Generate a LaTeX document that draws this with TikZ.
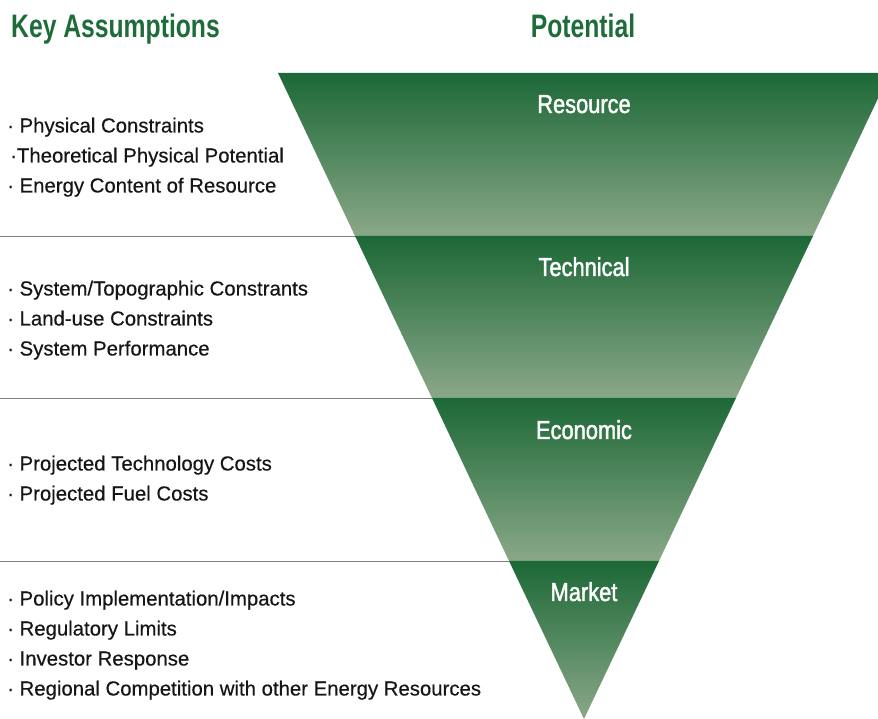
\documentclass[tikz,border=0pt]{standalone}
\usepackage{fontspec}
\setmainfont[FakeBold=0.4]{Liberation Sans}
\newfontfamily\titlefont[FakeStretch=0.76]{Liberation Sans}
\newfontfamily\bandfont[FakeStretch=0.84,FakeBold=1.6]{Liberation Sans}
\definecolor{titlegreen}{RGB}{30,108,58}
\definecolor{bandtop}{RGB}{28,104,54}
\definecolor{bandbot}{RGB}{138,168,136}
\definecolor{textgrey}{RGB}{22,22,22}
\tikzset{
	heading/.style={inner sep=0pt, text=titlegreen, font=\titlefont\bfseries\fontsize{32.5}{36}\selectfont},
	item/.style={anchor=base west, inner sep=0pt, text=textgrey, font=\fontsize{20.35}{24}\selectfont},
	bandlabel/.style={anchor=base, inner sep=0pt, text=white, font=\bandfont\fontsize{26}{30}\selectfont},
	band/.style={top color=bandtop, bottom color=bandbot},
	divider/.style={draw=black!50, line width=0.9pt}
}
\begin{document}
\begin{tikzpicture}[x=1pt,y=1pt]
	\useasboundingbox (0,0) rectangle (878,719);
	\clip (0,0) rectangle (878,719);

	% the funnel, one shaded band per level
	\shade[band] (278,646) -- (890,646) -- (813,483) -- (355,483) -- cycle;
	\shade[band] (355,483) -- (813,483) -- (736,321) -- (432,321) -- cycle;
	\shade[band] (432,321) -- (736,321) -- (659,158) -- (509,158) -- cycle;
	\shade[band] (509,158) -- (659,158) -- (584,0) -- cycle;

	% dividers between the levels
	\coordinate (d1) at (0,483);
	\coordinate (d2) at (0,321);
	\coordinate (d3) at (0,158);
	\draw[divider] (d1) -- (355,483);
	\draw[divider] (d2) -- (432,321);
	\draw[divider] (d3) -- (509,158);

	% headings
	\node[heading, anchor=base west] (keyhead) at (11,681.5) {Key Assumptions};
	\node[heading, anchor=base] (pothead) at (583,681.5) {Potential};

	% level names
	\node[bandlabel] (resource) at (584,606) {Resource};
	\node[bandlabel] (technical) at (584,443) {Technical};
	\node[bandlabel] (economic) at (584,280) {Economic};
	\node[bandlabel] (market) at (584,118) {Market};

	% assumptions
	\node[item] (a1) at (7,586.5) {·~Physical Constraints};
	\node[item] (a2) at (10,556.5) {·Theoretical Physical Potential};
	\node[item] (a3) at (7,526.5) {·~Energy Content of Resource};

	\node[item] (b1) at (7,423.5) {·~System/Topographic Constrants};
	\node[item] (b2) at (7,393.5) {·~Land-use Constraints};
	\node[item] (b3) at (7,363.5) {·~System Performance};

	\node[item] (c1) at (7,248.5) {·~Projected Technology Costs};
	\node[item] (c2) at (7,218.5) {·~Projected Fuel Costs};

	\node[item] (e1) at (7,113.5) {·~Policy Implementation/Impacts};
	\node[item] (e2) at (7,83.5) {·~Regulatory Limits};
	\node[item] (e3) at (7,53.5) {·~Investor Response};
	\node[item] (e4) at (7,23.5) {·~Regional Competition with other Energy Resources};
\end{tikzpicture}
\end{document}
